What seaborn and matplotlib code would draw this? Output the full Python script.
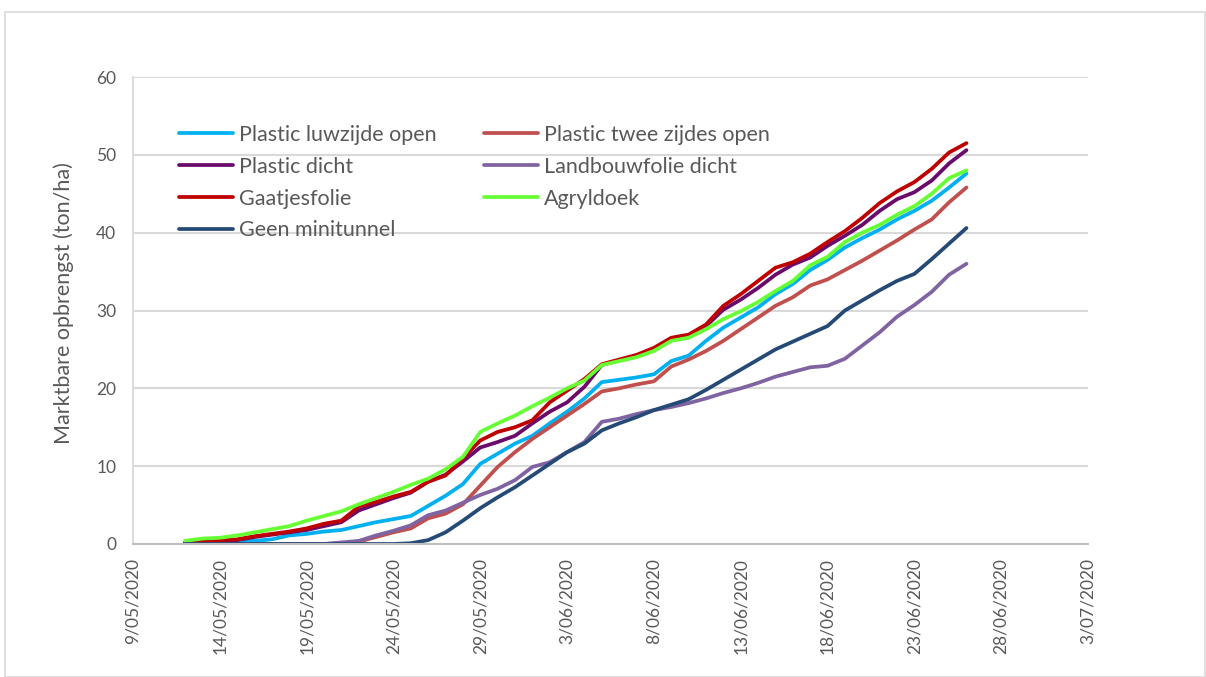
import matplotlib
matplotlib.use("Agg")
import matplotlib.pyplot as plt
import matplotlib.dates as mdates
from matplotlib.patches import Rectangle
import pandas as pd
import numpy as np
import seaborn as sns

# ---- data (daily, 12/05/2020 .. 26/06/2020) ----
dates = pd.date_range("2020-05-12", "2020-06-26", freq="D")

plastic_luwzijde_open = [0.1, 0.1, 0.2, 0.3, 0.4, 0.6, 1.1, 1.3, 1.6, 1.8, 2.3, 2.8, 3.2, 3.6,
                         4.9, 6.2, 7.7, 10.3, 11.6, 12.9, 13.9, 15.5, 17.0, 18.7, 20.8, 21.1,
                         21.4, 21.8, 23.5, 24.2, 26.1, 27.8, 29.1, 30.4, 32.1, 33.4, 35.2, 36.5,
                         38.1, 39.3, 40.4, 41.7, 42.8, 44.1, 45.8, 47.6]
plastic_twee_zijdes_open = [0.0, 0.0, 0.0, 0.0, 0.0, 0.0, 0.0, 0.0, 0.0, 0.1, 0.3, 0.9, 1.5, 2.0,
                            3.3, 3.9, 5.1, 7.5, 9.9, 11.8, 13.5, 15.0, 16.5, 18.0, 19.6, 20.0,
                            20.5, 20.9, 22.8, 23.7, 24.8, 26.1, 27.6, 29.1, 30.6, 31.7, 33.2, 34.0,
                            35.2, 36.4, 37.7, 39.0, 40.4, 41.7, 43.9, 45.8]
plastic_dicht = [0.2, 0.3, 0.4, 0.5, 0.9, 1.2, 1.5, 1.8, 2.3, 2.8, 4.3, 5.1, 5.9, 6.6,
                 8.0, 8.9, 10.6, 12.4, 13.1, 13.9, 15.5, 17.0, 18.2, 20.2, 23.0, 23.6,
                 24.2, 25.0, 26.3, 26.7, 28.0, 30.1, 31.4, 32.9, 34.6, 35.9, 36.8, 38.3,
                 39.6, 41.0, 42.8, 44.3, 45.2, 46.7, 48.9, 50.6]
landbouwfolie_dicht = [0.0, 0.0, 0.0, 0.0, 0.0, 0.0, 0.0, 0.0, 0.0, 0.2, 0.4, 1.1, 1.7, 2.4,
                       3.7, 4.3, 5.3, 6.3, 7.1, 8.2, 9.9, 10.5, 11.8, 13.1, 15.7, 16.1,
                       16.7, 17.2, 17.6, 18.1, 18.7, 19.4, 20.0, 20.7, 21.5, 22.1, 22.7, 22.9,
                       23.8, 25.5, 27.2, 29.2, 30.7, 32.4, 34.6, 36.0]
gaatjesfolie = [0.2, 0.4, 0.5, 0.6, 1.0, 1.3, 1.6, 2.0, 2.6, 3.0, 4.8, 5.4, 6.1, 6.7,
                8.0, 8.8, 11.0, 13.3, 14.4, 15.0, 15.9, 18.2, 19.7, 21.2, 23.1, 23.7,
                24.3, 25.2, 26.5, 26.9, 28.2, 30.6, 32.1, 33.8, 35.5, 36.2, 37.3, 38.8,
                40.2, 41.9, 43.8, 45.3, 46.5, 48.2, 50.3, 51.5]
agryldoek = [0.4, 0.7, 0.8, 1.1, 1.5, 1.9, 2.3, 3.0, 3.6, 4.2, 5.1, 5.9, 6.7, 7.6,
             8.4, 9.6, 11.2, 14.4, 15.5, 16.5, 17.7, 18.8, 20.0, 21.0, 23.0, 23.5,
             24.0, 24.8, 26.1, 26.5, 27.6, 28.9, 29.9, 31.1, 32.5, 33.8, 35.8, 36.9,
             38.8, 40.0, 41.0, 42.3, 43.4, 45.0, 47.0, 48.0]
geen_minitunnel = [0.0, 0.0, 0.0, 0.0, 0.0, 0.0, 0.0, 0.0, 0.0, 0.0, 0.0, 0.0, 0.0, 0.1,
                   0.5, 1.5, 3.0, 4.6, 6.0, 7.3, 8.8, 10.3, 11.8, 12.9, 14.6, 15.5,
                   16.3, 17.2, 17.9, 18.6, 19.8, 21.1, 22.4, 23.7, 25.0, 26.0, 27.0, 28.0,
                   30.0, 31.3, 32.6, 33.8, 34.7, 36.6, 38.6, 40.6]

series_names = ["Plastic luwzijde open", "Plastic twee zijdes open", "Plastic dicht",
                "Landbouwfolie dicht", "Gaatjesfolie", "Agryldoek", "Geen minitunnel"]
series_values = [plastic_luwzijde_open, plastic_twee_zijdes_open, plastic_dicht,
                 landbouwfolie_dicht, gaatjesfolie, agryldoek, geen_minitunnel]
series_colors = ["#00B0F0", "#C0504D", "#6A0A6A", "#8064A2", "#C00000", "#66FF33", "#254A75"]

y_label = "Marktbare opbrengst (ton/ha)"
x_start, x_end = "2020-05-09", "2020-07-03"

# ---- style ----
sns.set_theme(style="white")
plt.rcParams["font.family"] = ["Lato", "DejaVu Sans"]
text_col = "#595959"
grid_col = "#D9D9D9"

W, H = 1206, 677
fig = plt.figure(figsize=(W / 100, H / 100), dpi=100)
ax = fig.add_axes([133 / W, 1 - 544 / H, (1088 - 133) / W, (544 - 77) / H])

handles = {}
for name, vals, col in zip(series_names, series_values, series_colors):
    df = pd.DataFrame({"date": dates, "value": vals})
    sns.lineplot(data=df, x="date", y="value", color=col, linewidth=2.7, ax=ax,
                 label=name, legend=False)
    handles[name] = ax.lines[-1]

ax.set_xlim(pd.Timestamp(x_start), pd.Timestamp(x_end))
ax.set_ylim(0, 60)
ax.set_yticks(np.arange(0, 61, 10))
ax.set_xticks(pd.date_range(x_start, x_end, freq="5D"))
ax.xaxis.set_major_formatter(mdates.DateFormatter("%-d/%m/%Y"))
ax.yaxis.grid(True, color=grid_col, linewidth=1.5)
ax.set_axisbelow(True)
for s in ["top", "right"]:
    ax.spines[s].set_visible(False)
ax.spines["left"].set_color(grid_col)
ax.spines["left"].set_linewidth(1.3)
ax.spines["bottom"].set_color("#BFBFBF")
ax.spines["bottom"].set_linewidth(1.5)
ax.tick_params(axis="both", length=0, colors=text_col, labelsize=12.5)
ax.tick_params(axis="x", pad=10)
ax.tick_params(axis="y", pad=12)
for lab in ax.get_xticklabels():
    lab.set_rotation(90)
    lab.set_ha("center")
    lab.set_va("top")
ax.set_xlabel("")
ax.set_ylabel(y_label, color=text_col, fontsize=15.5)
ax.yaxis.set_label_coords(-0.062, 0.515)

order = ["Plastic luwzijde open", "Plastic dicht", "Gaatjesfolie", "Geen minitunnel",
         "Plastic twee zijdes open", "Landbouwfolie dicht", "Agryldoek"]
leg = ax.legend([handles[n] for n in order], order, ncol=2, frameon=False,
                loc="upper left", bbox_to_anchor=(0.039, 0.916), fontsize=15.5,
                handlelength=2.5, handletextpad=0.28, columnspacing=2.2,
                labelspacing=0.55, borderaxespad=0)
for t in leg.get_texts():
    t.set_color(text_col)

fig.patches.append(Rectangle((5 / W, 0), (W - 6) / W, 1 - 12 / H, transform=fig.transFigure,
                             fill=False, edgecolor=grid_col, linewidth=1.2))

fig.savefig("out.png", dpi=100)
